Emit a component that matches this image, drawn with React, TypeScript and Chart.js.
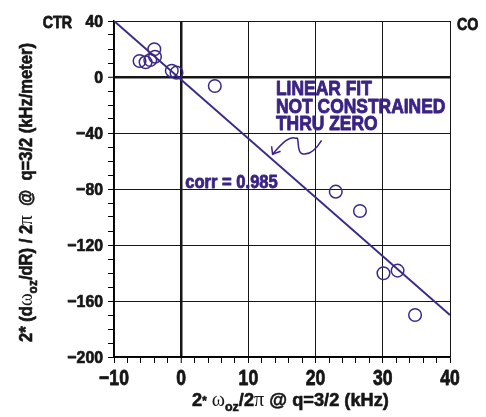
import React, { useEffect, useRef } from "react";
import { Chart, registerables } from "chart.js";

Chart.register(...registerables);

// ---- data ----
const pointX = [-6.2, -5.3, -4.6, -4.0, -3.9, -1.4, -0.7, 5.0, 23.0, 26.6, 30.1, 32.2, 34.8];
const pointY = [11.4, 10.5, 12.1, 19.8, 14.5, 4.5, 3.1, -6.4, -81.9, -95.7, -140.2, -138.3, -170];
const fitX = [-10, 40];
const fitY = [40, -170];
const xMin = -10, xMax = 40, xMajor = 10, xMinor = 2;
const yMin = -200, yMax = 40, yMajor = 40, yMinor = 10;
const fitNote = ["LINEAR FIT", "NOT CONSTRAINED", "THRU ZERO"];
const corrNote = "corr = 0.985";
const leftCorner = "CTR";
const rightCorner = "CO";

const PURPLE = "#3b2385";
const LINE = "#3a2a88";
const INK = "#161616";
const SANS = '"Liberation Sans", Arial, Helvetica, sans-serif';
const SERIF = '"Liberation Serif", "DejaVu Serif", serif';

const fmt = (v: number) => (v < 0 ? "\u2212" + Math.abs(v) : String(v));

type Run = { t: string; font: string; dy?: number; heavy?: boolean };

function heavyText(ctx: CanvasRenderingContext2D, t: string, x: number, y: number, w: number) {
  ctx.fillText(t, x, y);
  if (w > 0) {
    ctx.strokeStyle = ctx.fillStyle as string;
    ctx.lineWidth = w;
    ctx.lineJoin = "round";
    ctx.strokeText(t, x, y);
  }
}

function drawRuns(ctx: CanvasRenderingContext2D, runs: Run[], x: number, y: number, sx: number, w: number) {
  ctx.save();
  ctx.translate(x, y);
  ctx.scale(sx, 1);
  ctx.textAlign = "left";
  let cx = 0;
  for (const r of runs) {
    ctx.font = r.font;
    heavyText(ctx, r.t, cx, r.dy || 0, r.heavy === false ? 0 : w);
    cx += ctx.measureText(r.t).width;
  }
  ctx.restore();
}

function drawNarrow(ctx: CanvasRenderingContext2D, t: string, x: number, y: number, font: string, sx: number, align: CanvasTextAlign, w: number) {
  ctx.save();
  ctx.translate(x, y);
  ctx.scale(sx, 1);
  ctx.font = font;
  ctx.textAlign = align;
  heavyText(ctx, t, 0, 0, w);
  ctx.restore();
}

const annotPlugin = {
  id: "annot",
  afterDraw(chart: any) {
    const { ctx } = chart;
    const xs = chart.scales.x;
    const ys = chart.scales.y;
    const P = (a: number, b: number) => [xs.getPixelForValue(a), ys.getPixelForValue(b)];
    ctx.save();
    ctx.textBaseline = "alphabetic";

    // tick labels
    ctx.fillStyle = INK;
    for (const t of xs.ticks) {
      if (t.value % xMajor !== 0) continue;
      drawNarrow(ctx, fmt(t.value), xs.getPixelForValue(t.value), 385, `bold 22px ${SANS}`, 0.8, "center", 0.8);
    }
    for (const t of ys.ticks) {
      if (t.value % yMajor !== 0) continue;
      drawNarrow(ctx, fmt(t.value), chart.chartArea.left - 11, ys.getPixelForValue(t.value) + 6, `bold 17px ${SANS}`, 0.93, "right", 0.7);
    }

    // fit note
    ctx.fillStyle = PURPLE;
    const [nx, ny] = P(14.1, -12.9);
    fitNote.forEach((s, i) => drawNarrow(ctx, s, nx, ny + i * 17.5, `bold 21px ${SANS}`, 0.83, "left", 0.9));

    // corr note
    const [cx, cy] = P(0.6, -79);
    drawNarrow(ctx, corrNote, cx, cy, `bold 18px ${SANS}`, 0.92, "left", 0.8);

    // curvy arrow
    ctx.strokeStyle = PURPLE;
    ctx.lineWidth = 1.5;
    const [sx, sy] = P(20.9, -45.3);
    const [bx, by] = P(17.9, -54.6);
    const [tx, ty] = P(17.1, -43.8);
    const [ax, ay] = P(13.6, -55.2);
    ctx.beginPath();
    ctx.moveTo(sx, sy);
    ctx.bezierCurveTo(sx - 5, sy + 8, bx + 8, by + 3, bx, by);
    ctx.bezierCurveTo(bx - 5, by - 2, bx - 2, ty - 3, tx, ty);
    ctx.bezierCurveTo(tx - 6, ty - 3, ax + 10, ay - 12, ax, ay);
    ctx.stroke();
    ctx.beginPath();
    ctx.moveTo(ax - 1, ay - 8);
    ctx.lineTo(ax, ay);
    ctx.lineTo(ax + 8, ay - 3);
    ctx.stroke();

    // corner labels
    ctx.fillStyle = INK;
    drawNarrow(ctx, leftCorner, chart.chartArea.left - 42, chart.chartArea.top + 7, `bold 17px ${SANS}`, 0.84, "right", 0.8);
    drawNarrow(ctx, rightCorner, chart.chartArea.right + 7, chart.chartArea.top + 9, `bold 17px ${SANS}`, 0.84, "left", 0.8);

    // x title
    const B = `bold 19px ${SANS}`;
    const S = `21px ${SERIF}`;
    const SUB = `bold 13px ${SANS}`;
    drawRuns(ctx, [
      { t: "2", font: B },
      { t: "*", font: `bold 12px ${SANS}`, dy: -1 },
      { t: " ", font: B },
      { t: "\u03c9", font: S, heavy: false },
      { t: "oz", font: SUB, dy: 5 },
      { t: "/2", font: B },
      { t: "\u03c0", font: S, heavy: false },
      { t: " @ q=3/2 (kHz)", font: B },
    ], 192, 406, 0.96, 0.6);

    // y title (rotated)
    const BY = `bold 18px ${SANS}`;
    ctx.save();
    ctx.translate(32, 342);
    ctx.rotate(-Math.PI / 2);
    drawRuns(ctx, [
      { t: "2* (d", font: BY },
      { t: "\u03c9", font: S, heavy: false },
      { t: "oz", font: SUB, dy: 5 },
      { t: "/dR) / 2", font: BY },
      { t: "\u03c0", font: S, heavy: false },
      { t: "  @  q=3/2 (kHz/meter)", font: BY },
    ], 0, 0, 0.92, 0.6);
    ctx.restore();

    ctx.restore();
  },
};

export default function App() {
  const ref = useRef<HTMLCanvasElement | null>(null);
  useEffect(() => {
    if (!ref.current) return;
    const chart = new Chart(ref.current, {
      type: "scatter",
      data: {
        datasets: [
          {
            type: "line",
            data: fitX.map((x, i) => ({ x, y: fitY[i] })),
            borderColor: LINE,
            borderWidth: 2,
            pointRadius: 0,
            fill: false,
            tension: 0,
          } as any,
          {
            type: "scatter",
            data: pointX.map((x, i) => ({ x, y: pointY[i] })),
            borderColor: LINE,
            backgroundColor: "rgba(0,0,0,0)",
            borderWidth: 1.5,
            pointRadius: 6.3,
            pointStyle: "circle",
          },
        ],
      },
      options: {
        responsive: false,
        animation: false,
        devicePixelRatio: 1,
        layout: { padding: { left: 0, right: 36, top: 21, bottom: 0 } },
        plugins: { legend: { display: false }, tooltip: { enabled: false } },
        scales: {
          x: {
            type: "linear",
            min: xMin,
            max: xMax,
            afterFit: (s: any) => { s.height = 60; },
            border: { display: true, color: "#000", width: 1.5 },
            grid: {
              color: (c: any) => (c.tick && c.tick.value % xMajor === 0 ? INK : "rgba(0,0,0,0)"),
              lineWidth: (c: any) => (c.tick && c.tick.value === 0 ? 2.5 : 1),
              tickColor: "#000",
              tickWidth: 1,
              tickLength: 6,
            },
            ticks: {
              stepSize: xMinor,
              autoSkip: false,
              maxRotation: 0,
              color: "rgba(0,0,0,0)",
              callback: (v: any) => fmt(Number(v)),
            },
          },
          y: {
            type: "linear",
            min: yMin,
            max: yMax,
            afterFit: (s: any) => { s.width = 114; },
            border: { display: true, color: "#000", width: 1.5 },
            grid: {
              color: (c: any) => (c.tick && c.tick.value % yMajor === 0 ? INK : "rgba(0,0,0,0)"),
              lineWidth: (c: any) => (c.tick && c.tick.value === 0 ? 2.5 : 1),
              tickColor: "#000",
              tickWidth: 1,
              tickLength: 6,
            },
            ticks: {
              stepSize: yMinor,
              autoSkip: false,
              color: "rgba(0,0,0,0)",
              callback: (v: any) => fmt(Number(v)),
            },
          },
        },
      },
      plugins: [annotPlugin],
    } as any);
    return () => chart.destroy();
  }, []);
  return (
    <div style={{ position: "fixed", left: 0, top: 0, width: 486, height: 417, background: "#fff" }}>
      <canvas ref={ref} width={486} height={417} style={{ width: 486, height: 417, display: "block" }} />
    </div>
  );
}
